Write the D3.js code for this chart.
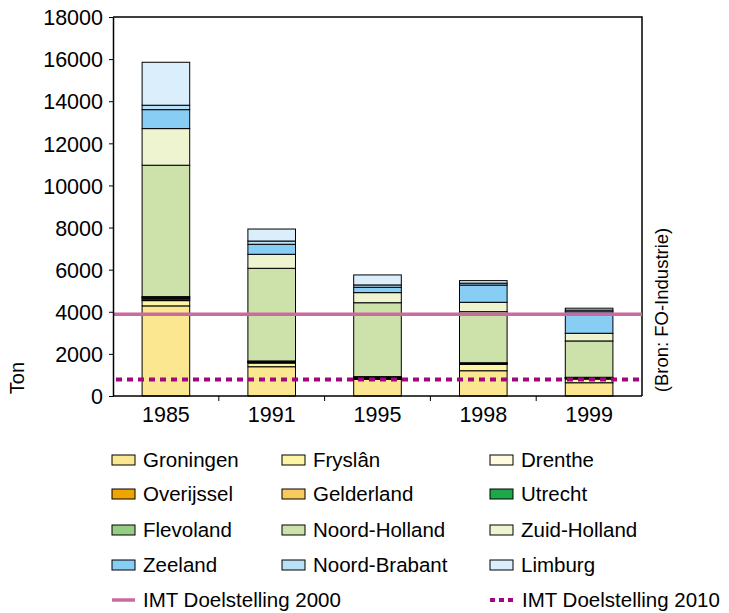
<!DOCTYPE html>
<html><head><meta charset="utf-8">
<script src="https://cdn.jsdelivr.net/npm/d3@7"></script>
<style>body{margin:0;background:#fff}svg{display:block}text{font-family:"Liberation Sans",Arial,sans-serif;fill:#000}</style>
</head><body><svg id="c" width="729" height="613"></svg>
<script>
const years = ["1985","1991","1995","1998","1999"];
const provinces = ["Groningen","Fryslân","Drenthe","Overijssel","Gelderland","Utrecht","Flevoland","Noord-Holland","Zuid-Holland","Zeeland","Noord-Brabant","Limburg"];
const colors = ["#fbe78f","#fdf5a6","#fefbe0","#f0a400","#f8c95c","#1ea84b","#95cd85","#cce2aa","#eef4cf","#88cdf3","#b8e0f7","#dbeefc"];
const groningen    = [4280,1390, 790,1200, 630];
const fryslan      = [ 250, 175,  10, 300, 175];
const drenthe      = [  30,  20,  10,  20,  20];
const overijssel   = [  60,  30,  30,  20,  20];
const gelderland   = [  50,  20,  30,  20,  20];
const utrecht      = [  20,  10,  10,  10,  10];
const flevoland    = [  30,  20,  40,  10,  15];
const noordHolland = [6240,4400,3510,2425,1725];
const zuidHolland  = [1740, 665, 480, 445, 365];
const zeeland      = [ 900, 475, 255, 820,1020];
const noordBrabant = [ 210, 155, 110,  90,  80];
const limburg      = [2040, 570, 475, 120,  90];
const seriesValues = [groningen,fryslan,drenthe,overijssel,gelderland,utrecht,flevoland,noordHolland,zuidHolland,zeeland,noordBrabant,limburg];
const yTicks = [0,2000,4000,6000,8000,10000,12000,14000,16000,18000];
const target2000 = 3880;
const target2010 = 780;
const targetLabels = ["IMT Doelstelling 2000","IMT Doelstelling 2010"];

const svg = d3.select("#c");
const L=113,R=642,T=17,B=396;
const FS = "21.5px", LFS = "20.5px";
const x = d3.scaleBand().domain(years).range([L,R]).padding(0);
const y = d3.scaleLinear().domain([0,18000]).range([B,T]);
const bw = x.bandwidth()*0.45;

const rows = years.map((yr,i)=>{const o={year:yr};provinces.forEach((p,j)=>o[p]=seriesValues[j][i]);return o;});
const stack = d3.stack().keys(provinces)(rows);

const g = svg.append("g");
stack.forEach((layer,j)=>{
  g.selectAll(null).data(layer).enter().append("rect")
    .attr("x",d=>x(d.data.year)+x.bandwidth()/2-bw/2)
    .attr("width",bw)
    .attr("y",d=>y(d[1]))
    .attr("height",d=>y(d[0])-y(d[1]))
    .attr("fill",colors[j])
    .attr("stroke","#000").attr("stroke-width",1);
});

svg.append("path").attr("d",`M${L},${T}H${R}V${B}`).attr("fill","none").attr("stroke","#000").attr("stroke-width",1.5);

svg.append("line").attr("x1",L).attr("x2",R).attr("y1",y(target2000)).attr("y2",y(target2000))
  .attr("stroke","#c96aa0").attr("stroke-width",3.5);
svg.append("line").attr("x1",L+3).attr("x2",R).attr("y1",y(target2010)).attr("y2",y(target2010))
  .attr("stroke","#a2067f").attr("stroke-width",4).attr("stroke-dasharray","6,5");

const ya = svg.append("g").attr("transform",`translate(${L},0)`)
  .call(d3.axisLeft(y).tickValues(yTicks).tickSize(4).tickSizeOuter(0).tickFormat(d3.format("d")));
ya.select(".domain").attr("stroke-width",1.5);
ya.selectAll("text").style("font-size",FS).attr("x",-10).attr("dy","0.36em");

const xa = svg.append("g").attr("transform",`translate(0,${B})`);
xa.append("line").attr("x1",L).attr("x2",R).attr("stroke","#000").attr("stroke-width",1.5);
const bounds = years.slice(1).map(v=>x(v));
xa.selectAll(null).data(bounds).enter().append("line").attr("x1",d=>d).attr("x2",d=>d).attr("y1",0).attr("y2",5).attr("stroke","#000");
xa.selectAll(null).data(years).enter().append("text")
  .attr("x",d=>x(d)+x.bandwidth()/2).attr("y",26).attr("text-anchor","middle").style("font-size",FS).text(d=>d);

svg.append("text").attr("transform","translate(24,378) rotate(-90)").attr("text-anchor","middle").style("font-size","20px").text("Ton");
svg.append("text").attr("transform","translate(668,310) rotate(-90)").attr("text-anchor","middle").style("font-size","18.5px").text("(Bron: FO-Industrie)");

const colX=[112,282,490], rowY=[460,494,530,565];
provinces.forEach((p,j)=>{
  const cx=colX[j%3], cy=rowY[Math.floor(j/3)];
  svg.append("rect").attr("x",cx).attr("y",cy-5).attr("width",23).attr("height",10).attr("fill",colors[j]).attr("stroke","#000").attr("stroke-width",1);
  svg.append("text").attr("x",cx+31).attr("y",cy).attr("dy","0.36em").style("font-size",LFS).text(p);
});
svg.append("line").attr("x1",112).attr("x2",135).attr("y1",600).attr("y2",600).attr("stroke","#c96aa0").attr("stroke-width",3.5);
svg.append("text").attr("x",143).attr("y",600).attr("dy","0.36em").style("font-size",LFS).text(targetLabels[0]);
svg.append("line").attr("x1",490).attr("x2",513).attr("y1",600).attr("y2",600).attr("stroke","#a2067f").attr("stroke-width",4).attr("stroke-dasharray","5,4");
svg.append("text").attr("x",522).attr("y",600).attr("dy","0.36em").style("font-size",LFS).text(targetLabels[1]);
</script></body></html>
